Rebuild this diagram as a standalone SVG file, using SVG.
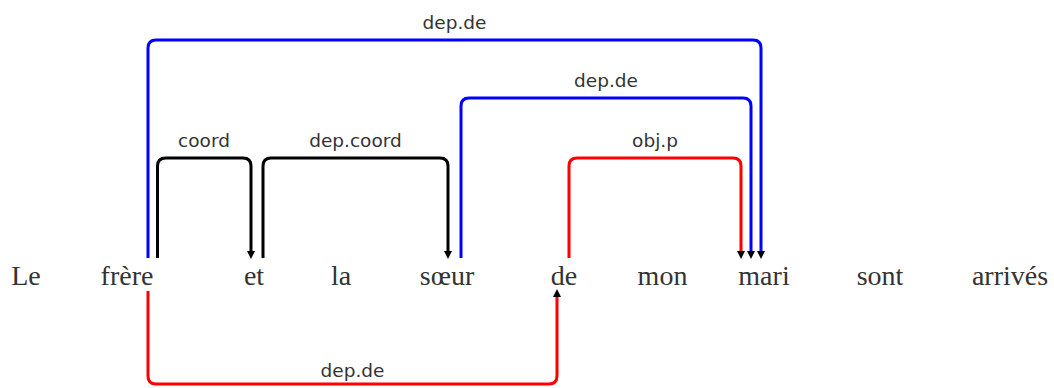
<svg xmlns="http://www.w3.org/2000/svg" width="1054" height="388" viewBox="0 0 1054 388">
<style>
.w{font-family:"Liberation Serif","Times New Roman",serif;font-size:28px;fill:#333;text-anchor:middle}
.l{font-family:"DejaVu Sans","Liberation Sans",sans-serif;font-size:18.5px;fill:#333;text-anchor:middle}
.c{fill:none;stroke-width:3;stroke-linejoin:round}
.k{stroke:#000}
.b{stroke:#0000ff}
.r{stroke:#ff0000}
</style>
<defs>
<marker id="arr" viewBox="0 0 8 8" refX="0" refY="4" markerWidth="8" markerHeight="8" orient="auto" markerUnits="userSpaceOnUse">
<path d="M0,0 L8,4 L0,8 z" fill="#000"/>
</marker>
</defs>
<rect width="1054" height="388" fill="#fff"/>
<g id="connectors">
<path class="c b" d="M148,258 V48 Q148,40 156,40 H753 Q761,40 761,48 V251" marker-end="url(#arr)"/>
<path class="c b" d="M461,258 V106 Q461,98 469,98 H743 Q751,98 751,106 V251" marker-end="url(#arr)"/>
<path class="c r" d="M569,258 V166 Q569,158 577,158 H733 Q741,158 741,166 V251" marker-end="url(#arr)"/>
<path class="c k" d="M157.5,258 V166 Q157.5,158 165.5,158 H243 Q251,158 251,166 V251" marker-end="url(#arr)"/>
<path class="c k" d="M263,258 V166 Q263,158 271,158 H440 Q448,158 448,166 V251" marker-end="url(#arr)"/>
<path class="c r" d="M148,291 V376 Q148,384 156,384 H549 Q557,384 557,376 V297" marker-end="url(#arr)"/>
<text class="l" x="454.5" y="29">dep.de</text>
<text class="l" x="606" y="87">dep.de</text>
<text class="l" x="655" y="147">obj.p</text>
<text class="l" x="204" y="147">coord</text>
<text class="l" x="355.5" y="147">dep.coord</text>
<text class="l" x="352.5" y="377">dep.de</text>
</g>
<g id="w1"><text class="w" x="26" y="285">Le</text></g>
<g id="w2"><text class="w" x="127" y="285">frère</text></g>
<g id="w3"><text class="w" x="254" y="285">et</text></g>
<g id="w4"><text class="w" x="341" y="285">la</text></g>
<g id="w5"><text class="w" x="447" y="285">sœur</text></g>
<g id="w6"><text class="w" x="564" y="285">de</text></g>
<g id="w7"><text class="w" x="662.5" y="285">mon</text></g>
<g id="w8"><text class="w" x="764" y="285">mari</text></g>
<g id="w9"><text class="w" x="880" y="285">sont</text></g>
<g id="w10"><text class="w" x="1010" y="285">arrivés</text></g>
</svg>
